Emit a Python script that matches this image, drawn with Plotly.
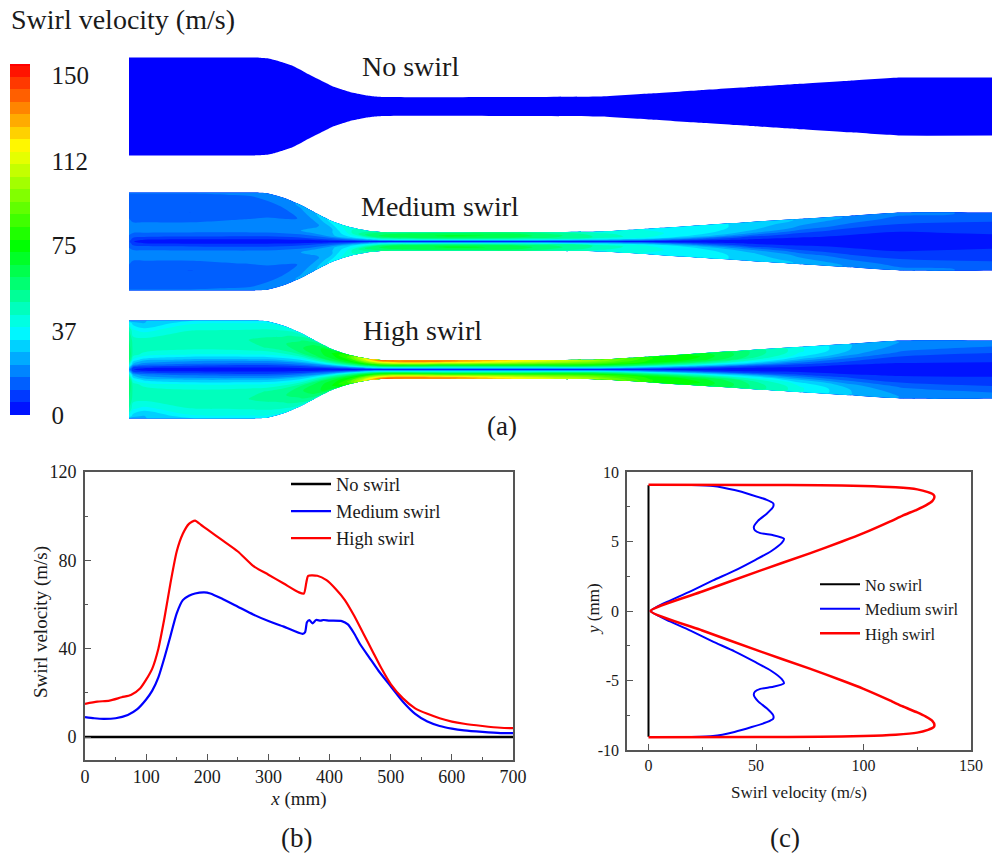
import plotly.graph_objects as go

W, H = 992, 859
FONT = "Liberation Serif"
INK = "#1a1a1a"
FRAME = "#555555"

# ---- duct geometry (a): stations along the duct and half height, in figure units
duct_x = [0, 4, 15, 61, 121, 138, 154, 171, 188, 204, 221, 238, 254, 321, 388, 471, 521, 571, 621, 671, 721, 771, 863]
duct_half = [49, 49, 49, 49, 49, 48.3, 44, 37, 28, 20, 14.5, 11, 9.5, 9.3, 9.5, 10, 13, 16.3, 19.5, 22.7, 25.8, 29, 29]
radial = [0, 0.04, 0.1, 0.2, 0.3, 0.45, 0.6, 0.8, 0.95, 1]
centre_none, centre_medium, centre_high = 66.5, 201.5, 329.5

# ---- finer wall outline of the No swirl duct
wall_x = [0, 121, 130, 138, 146, 154, 163, 171, 179, 188, 196, 204, 213, 221, 230, 238, 246, 254, 300, 471, 521, 571, 621, 671, 721, 771, 863]
wall_half = [49, 49, 48.8, 48.3, 46.5, 44, 41, 37, 32.5, 28, 24, 20, 17, 14.5, 12.5, 11, 10, 9.5, 9.3, 10, 13, 16.3, 19.5, 22.7, 25.8, 29, 29]

# ---- swirl velocity table: one row per station, one column per radial position
medium_field = [
    [12, 14, 16, 18, 19, 17, 15, 15, 16, 17],
    [6, 8, 13, 18, 19, 15, 12, 14, 16, 17],
    [3, 6, 12, 18, 19, 15, 12, 14, 16, 17],
    [3, 5, 11, 18, 19, 15, 11, 14, 16, 17],
    [3, 5, 10, 18, 20, 17, 12, 15, 17, 17],
    [3, 5, 10, 18, 20, 18, 14, 16, 18, 18],
    [3, 5, 10, 18, 21, 18, 15, 17, 20, 20],
    [3, 5, 10, 17, 22, 20, 17, 20, 23, 23],
    [3, 5, 11, 18, 24, 23, 21, 25, 28, 28],
    [3, 6, 12, 20, 27, 28, 28, 32, 36, 36],
    [3, 6, 14, 25, 32, 38, 42, 43, 42, 40],
    [3, 7, 17, 30, 40, 50, 58, 52, 48, 45],
    [3, 8, 20, 36, 46, 60, 62, 60, 55, 50],
    [3, 8, 20, 40, 52, 65, 68, 65, 58, 52],
    [3, 8, 20, 40, 50, 62, 65, 62, 55, 52],
    [3, 7, 17, 32, 42, 48, 47, 45, 42, 42],
    [3, 5, 16, 30, 38, 40, 40, 39, 38, 38],
    [2, 3, 9, 18, 28, 34, 36, 36, 36, 36],
    [2, 3, 5, 8, 14, 24, 29, 31, 31, 31],
    [2, 3, 4, 6, 8, 14, 20, 24, 27, 27],
    [2, 3, 4, 5, 6, 9, 14, 19, 21, 21],
    [2, 3, 4, 5, 5, 7, 11, 15, 18, 18],
    [3, 4, 5, 5, 6, 6, 9, 14, 16, 16],
]
high_field = [
    [20, 30, 45, 58, 60, 58, 56, 50, 38, 26],
    [6, 10, 25, 38, 47, 48, 47, 40, 30, 25],
    [3, 7, 18, 30, 42, 48, 47, 36, 27, 27],
    [3, 6, 14, 26, 38, 47, 48, 44, 37, 33],
    [3, 5, 12, 26, 38, 49, 50, 45, 38, 35],
    [3, 5, 12, 26, 38, 50, 52, 46, 39, 36],
    [3, 5, 12, 26, 38, 52, 54, 48, 41, 38],
    [3, 5, 12, 26, 38, 55, 60, 54, 46, 40],
    [3, 5, 12, 26, 42, 60, 64, 64, 54, 46],
    [3, 5, 12, 27, 45, 63, 70, 73, 66, 58],
    [3, 6, 14, 30, 48, 66, 76, 86, 84, 76],
    [3, 7, 18, 36, 52, 72, 88, 110, 122, 110],
    [3, 8, 20, 38, 55, 75, 95, 125, 145, 125],
    [3, 8, 20, 38, 50, 70, 95, 125, 142, 122],
    [3, 8, 20, 38, 52, 72, 92, 112, 120, 116],
    [3, 8, 20, 40, 55, 72, 85, 95, 100, 100],
    [3, 7, 17, 34, 50, 68, 76, 78, 78, 78],
    [2, 4, 11, 24, 40, 58, 70, 72, 70, 70],
    [2, 3, 6, 14, 28, 42, 52, 55, 55, 50],
    [2, 3, 5, 9, 16, 27, 35, 40, 40, 38],
    [2, 3, 4, 6, 10, 17, 24, 28, 28, 27],
    [2, 3, 4, 5, 7, 11, 16, 20, 22, 21],
    [3, 4, 5, 5, 6, 8, 12, 17, 19, 19],
]
bar_ticks = [0, 37, 75, 112, 150]
field_top = 155
band_count = 28

# ---- panel (b)
high_b_x = [0, 20, 40, 60, 75, 90, 100, 110, 120, 130, 140, 150, 160, 170, 180, 190, 200, 225, 250, 275, 300, 325, 350, 358, 362, 365, 380, 395, 410, 425, 440, 455, 470, 485, 500, 520, 540, 560, 580, 600, 620, 650, 680, 700]
high_b_v = [15, 16, 16.5, 18, 19, 22, 26, 31, 40, 54, 70, 84, 92, 96.5, 98, 96, 94, 89, 84, 77.5, 73.5, 69.5, 65.5, 65, 70, 73, 73, 71, 67, 62, 55, 47, 39, 31, 24, 17.5, 13, 10.5, 8.5, 7, 6, 5, 4.2, 4]
medium_b_x = [0, 15, 30, 50, 70, 85, 100, 110, 120, 130, 140, 150, 160, 170, 180, 195, 205, 225, 250, 275, 300, 325, 356, 360, 363, 367, 372, 378, 385, 390, 400, 420, 430, 440, 450, 465, 480, 500, 520, 540, 560, 580, 600, 620, 650, 680, 700]
medium_b_v = [9, 8.5, 8.2, 8.5, 10, 12.5, 17, 21, 27, 36, 46, 56, 62, 64, 65, 65.5, 65, 62.5, 59, 55.5, 52.5, 50, 46.7, 47.5, 52, 53, 51.5, 53, 52.7, 53, 52.7, 52.5, 51, 47, 42, 36, 30, 23, 16, 10.5, 7, 5, 3.8, 3, 2.3, 1.8, 1.8]
none_b_x = [0, 700]
none_b_v = [0, 0]

# ---- panel (c): upper half of each profile, from the wall to the axis
high_c_v = [0, 50, 80, 100, 115, 125, 130, 132.5, 133, 132, 129, 125, 118, 112.5, 100, 90, 75, 50, 25, 1]
high_c_y = [9.08, 9.07, 9.05, 9.0, 8.9, 8.75, 8.55, 8.38, 8.2, 7.9, 7.6, 7.3, 6.85, 6.45, 5.6, 5.0, 4.15, 2.8, 1.4, 0]
medium_c_v = [20, 30, 40, 48, 55, 58, 58, 55, 51, 49, 49.5, 52, 58, 63, 62, 57, 50, 40, 30, 20, 10, 1]
medium_c_y = [9.07, 9.0, 8.7, 8.35, 8.0, 7.75, 7.5, 7.0, 6.5, 6.05, 5.8, 5.6, 5.45, 5.2, 4.9, 4.3, 3.7, 2.9, 2.2, 1.45, 0.75, 0]
none_c_v = [0, 0]
none_c_y = [-9.05, 9.05]
y_c_ticks = [-10, -5, 0, 5, 10]
y_c_labels = ["-10", "-5", "0", "5", "10"]

RED, BLUE, BLACK = "#ff0000", "#0000ff", "#000000"
rainbow = [[0, "#0000ff"], [0.24, "#00ffff"], [0.484, "#00ff00"], [0.76, "#ffff00"], [1, "#ff0000"]]


def px(x):
    return x / W


def py(y):
    return 1 - y / H


fig = go.Figure()

# No swirl duct: the whole field is at the bottom of the scale
wall_line = dict(width=0, color="#0000ff", shape="spline", smoothing=0.3)
fig.add_trace(go.Scatter(
    x=wall_x, y=[centre_none - h for h in wall_half], mode="lines", line=wall_line,
    xaxis="x3", yaxis="y3", showlegend=False, hoverinfo="skip"))
fig.add_trace(go.Scatter(
    x=wall_x, y=[centre_none + h for h in wall_half], mode="lines", line=wall_line,
    fill="tonexty", fillcolor="#0000ff", xaxis="x3", yaxis="y3", showlegend=False, hoverinfo="skip"))


def add_duct(cid, centre, field, show_bar):
    signed = [-r for r in radial[:0:-1]] + radial
    xs = [list(duct_x) for _ in signed]
    ys = [[centre + s * h for h in duct_half] for s in signed]
    # rows of z follow the radial direction, mirrored about the axis
    z = [[field[i][radial.index(abs(s))] for i in range(len(duct_x))] for s in signed]
    axis = dict(showgrid=False, showline=False, showticklabels="none", minorgridcount=0,
                startline=False, endline=False, smoothing=0.6)
    fig.add_trace(go.Carpet(carpet=cid, a=list(range(len(duct_x))), b=signed, x=xs, y=ys,
                            aaxis=axis, baxis=axis, xaxis="x3", yaxis="y3"))
    fig.add_trace(go.Contourcarpet(
        carpet=cid, a=list(range(len(duct_x))), b=signed, z=z,
        autocontour=False, contours=dict(start=0, end=field_top, size=field_top / band_count, coloring="fill", showlines=False),
        line=dict(width=0, smoothing=1), colorscale=rainbow, zmin=0, zmax=field_top,
        showscale=show_bar, xaxis="x3", yaxis="y3",
        colorbar=dict(x=px(10), xanchor="left", y=py(64), yanchor="top", len=351, lenmode="pixels",
                      thickness=20, thicknessmode="pixels", xpad=0, ypad=0, outlinewidth=0,
                      tickmode="array", tickvals=bar_ticks, ticktext=[str(t) for t in bar_ticks],
                      ticks="outside", ticklen=17, tickcolor="rgba(0,0,0,0)",
                      tickfont=dict(family=FONT, size=25, color=INK))))


add_duct("medium", centre_medium, medium_field, True)
add_duct("high", centre_high, high_field, False)

# Panel (b)
smooth_b = dict(shape="spline", smoothing=0.6)
fig.add_trace(go.Scatter(x=none_b_x, y=none_b_v, name="No swirl", mode="lines", line=dict(color=BLACK, width=2.5), legend="legend"))
fig.add_trace(go.Scatter(x=medium_b_x, y=medium_b_v, name="Medium swirl", mode="lines", line=dict(color=BLUE, width=2.2, **smooth_b), legend="legend"))
fig.add_trace(go.Scatter(x=high_b_x, y=high_b_v, name="High swirl", mode="lines", line=dict(color=RED, width=2.2, **smooth_b), legend="legend"))

# Panel (c)
medium_c_full_v = medium_c_v + medium_c_v[-2::-1]
medium_c_full_y = medium_c_y + [-y for y in medium_c_y[-2::-1]]
high_c_full_v = high_c_v + high_c_v[-2::-1]
high_c_full_y = high_c_y + [-y for y in high_c_y[-2::-1]]
fig.add_trace(go.Scatter(x=none_c_v, y=none_c_y, name="No swirl", mode="lines", line=dict(color=BLACK, width=2), xaxis="x2", yaxis="y2", legend="legend2"))
fig.add_trace(go.Scatter(x=medium_c_full_v, y=medium_c_full_y, name="Medium swirl", mode="lines", line=dict(color=BLUE, width=2, shape="spline", smoothing=0.5), xaxis="x2", yaxis="y2", legend="legend2"))
fig.add_trace(go.Scatter(x=high_c_full_v, y=high_c_full_y, name="High swirl", mode="lines", line=dict(color=RED, width=2.5, shape="spline", smoothing=0.5), xaxis="x2", yaxis="y2", legend="legend2"))


def axis_style(size):
    return dict(showline=True, mirror=True, linecolor=FRAME, linewidth=1.6, ticks="inside", ticklen=6, tickwidth=1.3,
                tickcolor=FRAME, zeroline=False, showgrid=False, tickfont=dict(family=FONT, size=size, color=INK))


notes = [
    dict(text="Swirl velocity (m/s)", x=px(9), y=py(20), size=28),
    dict(text="No swirl", x=px(360), y=py(66), size=28),
    dict(text="Medium swirl", x=px(359), y=py(206), size=28),
    dict(text="High swirl", x=px(361), y=py(331), size=28),
    dict(text="(a)", x=px(485), y=py(426), size=27),
    dict(text="(b)", x=px(279), y=py(838), size=27),
    dict(text="(c)", x=px(768), y=py(838), size=27),
]
annotations = [dict(text=a["text"], x=a["x"], y=a["y"], xref="paper", yref="paper", xanchor="left", yanchor="middle",
                    showarrow=False, font=dict(family=FONT, size=a["size"], color=INK)) for a in notes]
annotations += [
    dict(text="Swirl velocity (m/s)", x=px(41), y=py(622), xref="paper", yref="paper", xanchor="center", yanchor="middle",
         textangle=-90, showarrow=False, font=dict(family=FONT, size=19, color=INK)),
    dict(text="<i>y</i> (mm)", x=px(593), y=py(609), xref="paper", yref="paper", xanchor="center", yanchor="middle",
         textangle=-90, showarrow=False, font=dict(family=FONT, size=17, color=INK)),
]

fig.update_layout(
    width=W, height=H, margin=dict(l=0, r=0, t=0, b=0, autoexpand=False), paper_bgcolor="white", plot_bgcolor="white",
    font=dict(family=FONT, color=INK),
    annotations=annotations,
    xaxis=dict(axis_style(18), domain=[px(85), px(513)], range=[0, 700], anchor="y", dtick=100,
               minor=dict(dtick=50, ticks="inside", ticklen=3, tickcolor=FRAME),
               title=dict(text="<i>x</i> (mm)", font=dict(family=FONT, size=19, color=INK), standoff=5)),
    yaxis=dict(axis_style(18), domain=[py(760), py(472)], range=[-10.4, 120], anchor="x", tickvals=[0, 40, 80, 120],
               ticklabelstandoff=3,
               minor=dict(tickvals=[20, 60, 100], ticks="inside", ticklen=3, tickcolor=FRAME)),
    xaxis2=dict(axis_style(16), domain=[px(627), px(971)], range=[-10, 150], anchor="y2", tickvals=[0, 50, 100, 150],
                minor=dict(tickvals=[25, 75, 125], ticks="inside", ticklen=3, tickcolor=FRAME),
                title=dict(text="Swirl velocity (m/s)", font=dict(family=FONT, size=17, color=INK), standoff=13)),
    yaxis2=dict(axis_style(16), domain=[py(750), py(472)], range=[-10, 10], anchor="x2", tickvals=y_c_ticks, ticktext=y_c_labels,
                ticklabelstandoff=3,
                minor=dict(tickvals=[-7.5, -2.5, 2.5, 7.5], ticks="inside", ticklen=3, tickcolor=FRAME)),
    xaxis3=dict(visible=False, domain=[px(129), 1], range=[0, 863], anchor="y3", fixedrange=True),
    yaxis3=dict(visible=False, domain=[py(430), py(40)], range=[390, 0], anchor="x3", fixedrange=True),
    legend=dict(x=px(286), y=py(465.5), xanchor="left", yanchor="top", bgcolor="rgba(0,0,0,0)", borderwidth=0,
                itemwidth=40, tracegroupgap=0, traceorder="normal", font=dict(family=FONT, size=18.5, color=INK)),
    legend2=dict(x=px(815), y=py(567), xanchor="left", yanchor="top", bgcolor="rgba(0,0,0,0)", borderwidth=0,
                 itemwidth=40, tracegroupgap=0, traceorder="normal", font=dict(family=FONT, size=16.5, color=INK)),
)

fig.write_html("out.html", config=dict(displayModeBar=False),
               post_script="document.body.style.margin='0';document.documentElement.style.overflow='hidden';")
